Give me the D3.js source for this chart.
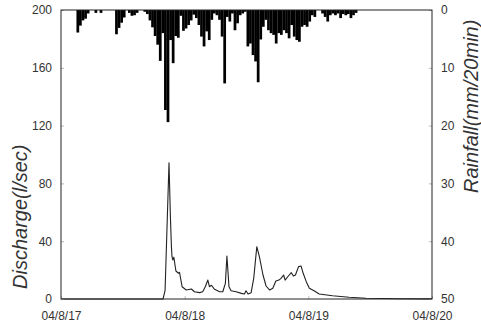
<!DOCTYPE html>
<html><head><meta charset="utf-8">
<script src="https://cdn.jsdelivr.net/npm/d3@7"></script>
<style>body{margin:0;background:#fff}svg{display:block}text{font-family:"Liberation Sans",Arial,sans-serif}</style>
</head><body><svg id="c" width="481" height="326"></svg>
<script>
// Discharge (l/sec): hours since 04/8/17 00:00
const dischargeHours = [0, 19.8, 20.2, 20.96, 21.23, 21.43, 21.54, 21.7, 21.9, 22.3, 22.8, 23.0, 23.5, 24.3, 25.3, 25.9, 26.9, 27.5, 28.0, 28.5, 28.8, 29.2, 29.8, 30.8, 31.4, 31.9, 32.2, 32.6, 33.0, 34.0, 35.0, 35.6, 35.9, 36.3, 36.9, 37.4, 38.0, 38.5, 39.2, 39.8, 40.5, 41.1, 41.7, 42.3, 42.7, 43.2, 43.5, 44.0, 44.7, 45.1, 45.5, 46.1, 46.6, 47.0, 47.6, 48.2, 49.2, 50.1, 52.7, 55.9, 59.2, 62.3, 65.6, 72];
const dischargeValues = [0, 0, 6, 94.3, 57, 36, 29.3, 27, 28.9, 19.4, 17.8, 18.5, 8.5, 6.2, 6.9, 5, 4.4, 5, 8.5, 13.1, 8.5, 9.5, 6.7, 5, 5, 10.8, 29.8, 8.5, 5.7, 5, 3.9, 3.5, 5.7, 3.5, 4.4, 14.3, 36.2, 29.3, 16.6, 9, 6.2, 7.4, 12.5, 13.1, 14.3, 16.6, 13.1, 15.4, 18.2, 15.9, 16.6, 22.4, 22.8, 17.8, 12, 7.4, 5.5, 3.5, 2.3, 1.2, 0.5, 0.3, 0.2, 0.1];
// Rainfall (mm) per 30-min bin, starting at 04/8/17 00:00
const rainBinHours = 0.5;
const rainValues = [
 0,0,0,0,0,0,3.9,2.7,1.8,1.5, 0.6,0,0,0.5,0,0.5,0,0,0,0,
 0,4.2,3.1,2.2,1.3,0,0.5,1.0,0.9,0.5, 0,0,0.3,0.7,1.8,3.0,4.5,6.0,8.8,4.0,
 17.3,19.4,5.2,9.2,4.5,4.8,1.0,3.6,3.2,2.6, 1.8,0.8,1.4,2.6,4.6,6.3,3.7,5.2,1.7,0.6,
 0.9,1.7,4.6,12.7,1.2,2.0,0.6,3.5,2.3,0.9, 0.6,0.3,6.3,5.8,7.8,8.9,12.5,5.1,2.9,1.7,
 3.5,4.0,4.3,5.8,4.0,4.3,3.5,4.0,4.9,2.6, 4.6,5.2,5.5,2.9,2.6,2.9,2.0,0.9,1.2,0,
 0,0.6,1.2,2.0,0.9,0.6,0.9,0.6,1.4,0.7, 0.9,0.7,1.4,0.9,0.5
];
const xTickHours = [0, 24, 48, 72];
const xTickLabels = ["04/8/17", "04/8/18", "04/8/19", "04/8/20"];
const leftTicks = [0, 40, 80, 120, 160, 200];
const rightTicks = [0, 10, 20, 30, 40, 50];

const svg = d3.select("#c");
const L = 61, R = 432, T = 10, B = 299;
const x = d3.scaleLinear().domain([0, 72]).range([L, R]);
const yQ = d3.scaleLinear().domain([0, 200]).range([B, T]);
const yR = d3.scaleLinear().domain([0, 50]).range([T, B]);
const ink = "#222", txt = "#333";

// rainfall bars
svg.append("g").selectAll("rect").data(rainValues.map((v,i)=>({i,v})).filter(d=>d.v>0))
  .join("rect")
  .attr("x", d => x(d.i*rainBinHours))
  .attr("width", d => x((d.i+1)*rainBinHours) - x(d.i*rainBinHours) + 0.15)
  .attr("y", yR(0))
  .attr("height", d => yR(d.v) - yR(0))
  .attr("fill", "#000");

// discharge line
const line = d3.line().x((d,i)=>x(dischargeHours[i])).y(d=>yQ(d));
svg.append("path").datum(dischargeValues).attr("d", line)
  .attr("fill","none").attr("stroke", ink).attr("stroke-width", 1.1).attr("stroke-linejoin","round");

// axes
const ax = g => g.call(s=>s.select(".domain").remove())
  .call(s=>s.selectAll("line").attr("stroke","#bbb"))
  .call(s=>s.selectAll("text").attr("fill",txt).style("font-size","12px"));
svg.append("g").attr("transform",`translate(${L},0)`)
  .call(d3.axisRight(yQ).tickValues(leftTicks).tickSize(3).tickFormat(d3.format("d"))).call(ax)
  .call(s=>s.selectAll("text").attr("x",-9).attr("text-anchor","end"));
svg.append("g").attr("transform",`translate(${R},0)`)
  .call(d3.axisLeft(yR).tickValues(rightTicks).tickSize(3).tickFormat(d3.format("d"))).call(ax)
  .call(s=>s.selectAll("text").attr("x",9).attr("text-anchor","start"));
svg.append("g").attr("transform",`translate(0,${B})`)
  .call(d3.axisTop(x).tickValues(xTickHours).tickSize(3).tickFormat((d,i)=>xTickLabels[i])).call(ax)
  .call(s=>s.selectAll("text").attr("y",12).attr("dy","0.71em"));

// frame
svg.append("rect").attr("x",L).attr("y",T).attr("width",R-L).attr("height",B-T)
  .attr("fill","none").attr("stroke",ink).attr("stroke-width",1);

// titles
svg.append("text").attr("transform",`translate(27,289) rotate(-90)`)
  .attr("text-anchor","start").attr("fill",txt).style("font-size","20px").style("font-style","italic")
  .text("Discharge(l/sec)");
svg.append("text").attr("transform",`translate(478,193) rotate(-90)`)
  .attr("text-anchor","start").attr("fill",txt).style("font-size","20px").style("font-style","italic")
  .text("Rainfall(mm/20min)");
</script></body></html>
